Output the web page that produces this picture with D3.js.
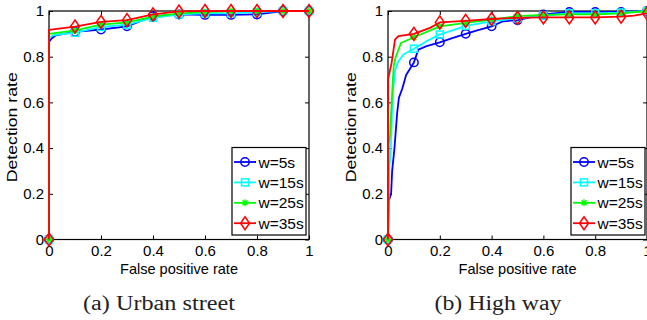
<!DOCTYPE html>
<html>
<head>
<meta charset="utf-8">
<script src="https://cdn.jsdelivr.net/npm/d3@7"></script>
<style>
  body { margin: 0; background: #fff; }
  svg { display: block; }
  text { font-family: "Liberation Sans", Arial, sans-serif; fill: #000; }
  .caption { font-family: "Liberation Serif", "Times New Roman", serif; fill: #222; }
</style>
</head>
<body>
<svg width="647" height="320"></svg>
<script>
(function (d3) {
    'use strict';

    // ---- data ----
    const seriesNames = ['w=5s', 'w=15s', 'w=25s', 'w=35s'];
    const seriesColors = ['#0000ff', '#00ffff', '#00ff00', '#ff0000'];
    const seriesMarkers = ['circle', 'square', 'star', 'diamond'];
    const tickValues = [0, 0.2, 0.4, 0.6, 0.8, 1];
    const markerFpr = [0, 0.1, 0.2, 0.3, 0.4, 0.5, 0.6, 0.7, 0.8, 0.9, 1];
    const captions = ['(a) Urban street', '(b) High way'];

    // urban street, [fpr, detection rate]
    const urban5 = [[0,0],[0,0.865],[0.01,0.88],[0.025,0.893],[0.1,0.909],[0.2,0.919],[0.3,0.933],[0.4,0.977],[0.5,0.985],[0.6,0.983],[0.7,0.983],[0.8,0.985],[0.9,1],[1,1]];
    const urban15 = [[0,0],[0,0.885],[0.02,0.895],[0.1,0.905],[0.2,0.93],[0.3,0.94],[0.4,0.97],[0.5,0.985],[0.6,0.99],[0.7,0.99],[0.8,0.995],[0.9,1],[1,1]];
    const urban25 = [[0,0],[0,0.9],[0.1,0.915],[0.2,0.94],[0.3,0.95],[0.4,0.975],[0.5,0.99],[0.6,0.995],[0.7,1],[0.8,1],[0.9,1],[1,1]];
    const urban35 = [[0,0],[0,0.917],[0.1,0.932],[0.2,0.952],[0.3,0.96],[0.4,0.985],[0.5,0.998],[0.6,1],[0.7,1],[0.8,1],[0.9,1],[1,1]];

    // high way
    const highway5 = [[0,0],[0.003,0.17],[0.012,0.2],[0.016,0.3],[0.025,0.4],[0.035,0.55],[0.042,0.62],[0.055,0.66],[0.07,0.72],[0.1,0.775],[0.117,0.831],[0.149,0.846],[0.2,0.863],[0.251,0.882],[0.3,0.9],[0.341,0.914],[0.4,0.933],[0.444,0.955],[0.5,0.96],[0.6,0.985],[0.7,0.996],[0.8,0.996],[0.9,0.996],[1,1]];
    const highway15 = [[0,0],[0.004,0.3],[0.01,0.38],[0.015,0.55],[0.02,0.66],[0.027,0.74],[0.04,0.78],[0.06,0.81],[0.1,0.835],[0.149,0.868],[0.2,0.897],[0.3,0.935],[0.4,0.955],[0.5,0.968],[0.6,0.98],[0.7,0.99],[0.8,0.99],[0.9,0.993],[1,1]];
    const highway25 = [[0,0],[0.003,0.42],[0.008,0.46],[0.015,0.62],[0.022,0.76],[0.03,0.8],[0.05,0.86],[0.1,0.885],[0.2,0.933],[0.3,0.948],[0.4,0.962],[0.5,0.978],[0.6,0.983],[0.7,0.985],[0.8,0.985],[0.9,0.99],[1,1]];
    const highway35 = [[0,0],[0,0.7],[0.014,0.773],[0.027,0.875],[0.04,0.89],[0.1,0.9],[0.162,0.926],[0.2,0.95],[0.3,0.957],[0.4,0.965],[0.5,0.97],[0.6,0.972],[0.7,0.972],[0.8,0.972],[0.9,0.975],[0.95,0.98],[1,0.99]];

    const panels = [
        { left: 49, right: 309, series: [urban5, urban15, urban25, urban35], caption: captions[0], capX: 159, capW: 152, legendX: 232 },
        { left: 388, right: 647, series: [highway5, highway15, highway25, highway35], caption: captions[1], capX: 498, capW: 127, legendX: 571 }
    ];
    const top = 11, bottom = 239.5;

    const svg = d3.select('svg');

    const drawMarker = (g, type, color) => {
        if (type === 'circle') {
            g.append('circle').attr('r', 4.2)
                .attr('fill', 'none').attr('stroke', color).attr('stroke-width', 1.5);
        } else if (type === 'square') {
            g.append('rect').attr('x', -3.5).attr('y', -3.5).attr('width', 7).attr('height', 7)
                .attr('fill', 'none').attr('stroke', color).attr('stroke-width', 1.5);
        } else if (type === 'star') {
            g.append('path').attr('d', 'M-3.5,0H3.5M0,-3.5V3.5M-2.5,-2.5L2.5,2.5M-2.5,2.5L2.5,-2.5')
                .attr('stroke', color).attr('stroke-width', 1.3);
        } else {
            g.append('path').attr('d', 'M0,-6.5L4.5,0L0,6.5L-4.5,0Z')
                .attr('fill', 'none').attr('stroke', color).attr('stroke-width', 1.5);
        }
    };

    panels.forEach(p => {
        const x = d3.scaleLinear().domain([0, 1]).range([p.left, p.right]);
        const y = d3.scaleLinear().domain([0, 1]).range([bottom, top]);
        const g = svg.append('g');

        // box with inward ticks on all four sides
        g.append('rect')
            .attr('x', x(0)).attr('y', y(1))
            .attr('width', x(1) - x(0)).attr('height', y(0) - y(1))
            .attr('fill', 'none').attr('stroke', '#000').attr('stroke-width', 1.2);

        const axisStyle = sel => {
            sel.select('.domain').remove();
            sel.selectAll('line').attr('stroke', '#000');
            sel.selectAll('text').style('font-size', '15px').attr('fill', '#000');
        };

        g.append('g').attr('transform', `translate(0,${y(0)})`)
            .call(d3.axisBottom(x).tickValues(tickValues).tickFormat(d3.format('')).tickSizeInner(-4).tickPadding(6))
            .call(axisStyle);
        g.append('g').attr('transform', `translate(0,${y(1)})`)
            .call(d3.axisTop(x).tickValues(tickValues).tickFormat('').tickSizeInner(-4))
            .call(axisStyle);
        g.append('g').attr('transform', `translate(${x(0)},0)`)
            .call(d3.axisLeft(y).tickValues(tickValues).tickFormat(d3.format('')).tickSizeInner(-4).tickPadding(5))
            .call(axisStyle);
        g.append('g').attr('transform', `translate(${x(1)},0)`)
            .call(d3.axisRight(y).tickValues(tickValues).tickFormat('').tickSizeInner(-4))
            .call(axisStyle);

        // curves
        const line = d3.line().x(d => x(d[0])).y(d => y(d[1]));
        p.series.forEach((s, i) => {
            g.append('path').datum(s)
                .attr('d', line)
                .attr('fill', 'none')
                .attr('stroke', seriesColors[i])
                .attr('stroke-width', 1.8)
                .attr('stroke-linejoin', 'round');
            s.filter((d, j) => markerFpr.some(m => Math.abs(m - d[0]) < 1e-9) &&
                    !(d[0] === 0 && j > 0))
                .forEach(d => {
                    const mg = g.append('g').attr('transform', `translate(${x(d[0])},${y(d[1])})`);
                    drawMarker(mg, seriesMarkers[i], seriesColors[i]);
                });
        });

        // axis titles
        g.append('text')
            .attr('transform', `translate(${p.left - 32},${(top + bottom) / 2 + 2}) rotate(-90)`)
            .attr('text-anchor', 'middle')
            .style('font-size', '15.5px')
            .attr('textLength', 110)
            .attr('lengthAdjust', 'spacingAndGlyphs')
            .text('Detection rate');
        g.append('text')
            .attr('x', (p.left + p.right) / 2).attr('y', 274)
            .attr('text-anchor', 'middle')
            .style('font-size', '15px')
            .attr('textLength', 118)
            .attr('lengthAdjust', 'spacingAndGlyphs')
            .text('False positive rate');

        // caption
        g.append('text').attr('class', 'caption')
            .attr('x', p.capX).attr('y', 310)
            .attr('text-anchor', 'middle')
            .style('font-size', '20px')
            .attr('textLength', p.capW)
            .attr('lengthAdjust', 'spacingAndGlyphs')
            .text(p.caption);

        // legend
        const lg = g.append('g').attr('transform', `translate(${p.legendX},147.5)`);
        lg.append('rect').attr('width', 74).attr('height', 87.5)
            .attr('fill', '#fff').attr('stroke', '#000').attr('stroke-width', 1.2);
        seriesNames.forEach((name, i) => {
            const row = lg.append('g').attr('transform', `translate(0,${14.5 + i * 20.4})`);
            row.append('line').attr('x1', 2).attr('x2', 24)
                .attr('stroke', seriesColors[i]).attr('stroke-width', 1.8);
            drawMarker(row.append('g').attr('transform', 'translate(13,0)'), seriesMarkers[i], seriesColors[i]);
            row.append('text').attr('x', 26.5).attr('dy', '0.36em')
                .style('font-size', '15.5px')
                .text(name);
        });
    });

}(d3));
</script>
</body>
</html>
